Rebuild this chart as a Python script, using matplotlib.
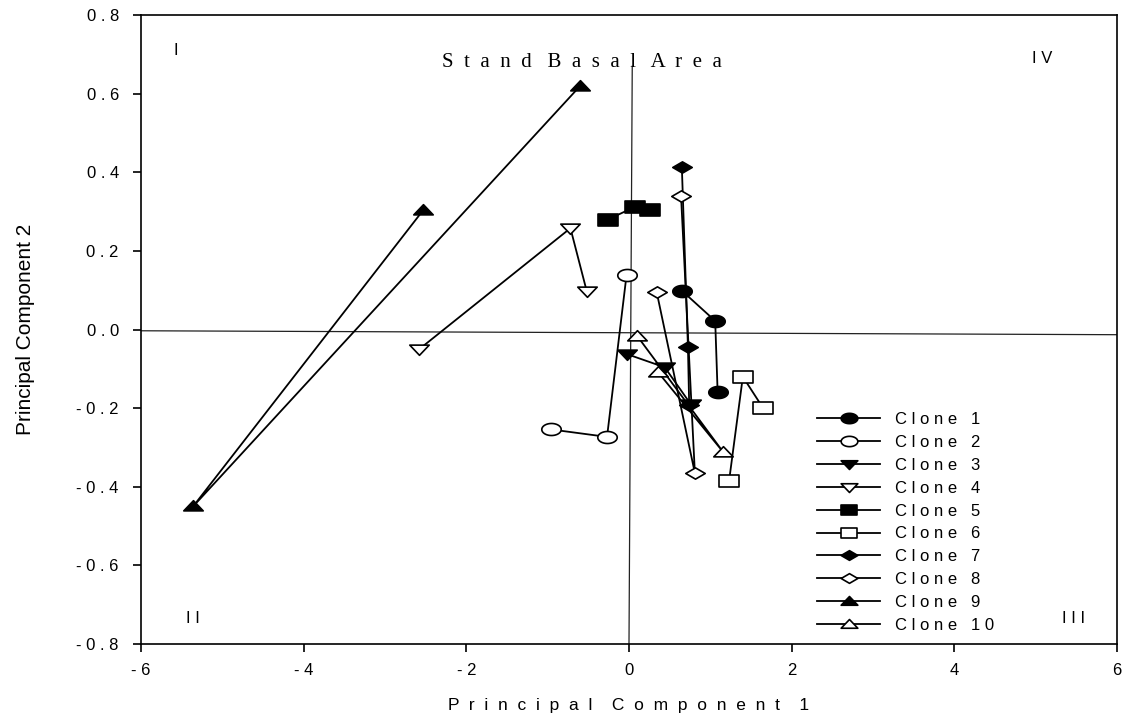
import numpy as np
import matplotlib
matplotlib.use("Agg")
import matplotlib.pyplot as plt
from matplotlib.path import Path

# scores on the first two principal components, one list per clone
clone_names = ["Clone 1", "Clone 2", "Clone 3", "Clone 4", "Clone 5",
               "Clone 6", "Clone 7", "Clone 8", "Clone 9", "Clone 10"]
pc1 = [
    [0.65, 1.06, 1.09],
    [-0.03, -0.27, -0.96],
    [-0.03, 0.44, 0.76],
    [-2.58, -0.72, -0.52],
    [-0.26, 0.07, 0.26],
    [1.23, 1.40, 1.65],
    [0.65, 0.725, 0.74],
    [0.34, 0.81, 0.64],
    [-2.53, -5.36, -0.60],
    [0.36, 1.16, 0.10],
]
pc2 = [
    [0.099, 0.022, -0.160],
    [0.139, -0.273, -0.254],
    [-0.062, -0.096, -0.190],
    [-0.050, 0.258, 0.098],
    [0.280, 0.312, 0.304],
    [-0.386, -0.120, -0.200],
    [0.413, -0.045, -0.192],
    [0.096, -0.365, 0.340],
    [0.304, -0.450, 0.620],
    [-0.109, -0.312, -0.016],
]
filled = [True, False, True, False, True, False, True, False, True, False]
shapes = ["circle", "circle", "tri_down", "tri_down", "square", "square",
          "diamond", "diamond", "tri_up", "tri_up"]

# reference axes drawn through the plot
hline_x = [-6, 6]
hline_y = [-0.003, -0.013]
vline_x = [0.0, 0.04]
vline_y = [-0.8, 0.67]

quadrants = ["I", "II", "III", "IV"]
quad_x = [-5.6, -5.45, 5.32, 4.95]
quad_y = [0.71, -0.735, -0.735, 0.69]


def spaced(s, sep=" "):
    return sep.join(s)


# squashed markers, the originals look wider than tall
t = np.linspace(0, 2 * np.pi, 40)
marker_paths = {
    "circle": Path(np.column_stack([np.cos(t), 0.62 * np.sin(t)]), closed=True),
    "square": Path([(-1, -0.62), (1, -0.62), (1, 0.62), (-1, 0.62), (-1, -0.62)], closed=True),
    "tri_up": Path([(-1, -0.45), (1, -0.45), (0, 0.6), (-1, -0.45)], closed=True),
    "tri_down": Path([(-1, 0.45), (1, 0.45), (0, -0.6), (-1, 0.45)], closed=True),
    "diamond": Path([(-1, 0), (0, 0.58), (1, 0), (0, -0.58), (-1, 0)], closed=True),
}

fig = plt.figure(figsize=(11.22, 7.22), dpi=100)
ax = fig.add_axes([0.1257, 0.108, 0.8698, 0.871])

ax.plot(hline_x, hline_y, color="#222222", lw=0.9, zorder=1)
ax.plot(vline_x, vline_y, color="#222222", lw=0.9, zorder=1)

for i, name in enumerate(clone_names):
    ax.plot(pc1[i], pc2[i], color="black", lw=1.3,
            marker=marker_paths[shapes[i]], markersize=14,
            markerfacecolor="black" if filled[i] else "white",
            markeredgecolor="black", markeredgewidth=1.2,
            label=spaced(name), zorder=3 + i)

ax.set_xlim(-6, 6)
ax.set_ylim(-0.8, 0.8)
xt = np.arange(-6, 7, 2)
yt = np.arange(-0.8, 0.81, 0.2)
ax.set_xticks(xt)
ax.set_yticks(yt)
ax.set_xticklabels([spaced(f"{v:g}") for v in xt],
                   family="Liberation Sans", fontsize=12)
ax.set_yticklabels([spaced(f"{v:.1f}".replace("-0.0", "0.0")) for v in yt],
                   family="Liberation Sans", fontsize=12)
ax.tick_params(direction="out", length=6, width=1.2)
ax.tick_params(axis="y", pad=10)
ax.tick_params(axis="x", pad=8)
for sp in ax.spines.values():
    sp.set_linewidth(1.2)

ax.set_xlabel(spaced("Principal", "  ") + "    " + spaced("Component", "  ") + "    1",
              family="Liberation Sans", fontsize=12.5, labelpad=14)
ax.set_ylabel("Principal Component 2",
              family=["Liberation Sans Narrow", "Liberation Sans"],
              fontsize=15, labelpad=30)

for q, qx, qy in zip(quadrants, quad_x, quad_y):
    ax.text(qx, qy, spaced(q), family="Liberation Sans", fontsize=12,
            ha="left", va="center")

ax.text(-2.3, 0.68, spaced("Stand", "  ") + "   " + spaced("Basal", "  ") + "   " + spaced("Area", "  "),
        family="Liberation Serif", fontsize=15, ha="left", va="center")

leg = ax.legend(loc="lower right", bbox_to_anchor=(0.89, -0.006), frameon=False,
                prop={"family": "Liberation Sans", "size": 12},
                handlelength=3.8, labelspacing=0.47, handletextpad=0.9)
for h in leg.legend_handles:
    h.set_markersize(12)

fig.savefig("out.png", dpi=100)
